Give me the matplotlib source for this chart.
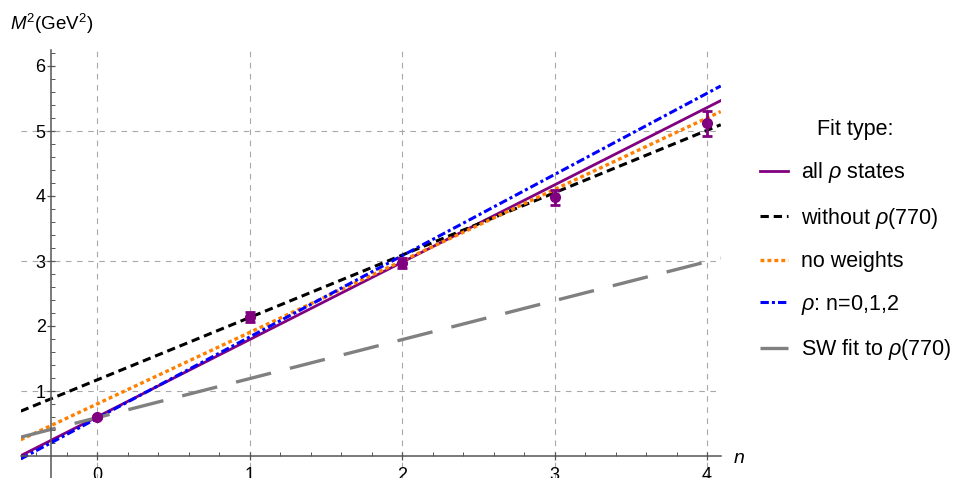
import numpy as np
import matplotlib
matplotlib.use("Agg")
import matplotlib.pyplot as plt
from matplotlib.lines import Line2D
from matplotlib.ticker import FixedLocator

plt.rcParams['font.family'] = ['Liberation Sans', 'DejaVu Sans']
plt.rcParams['mathtext.fontset'] = 'custom'
plt.rcParams['mathtext.rm'] = 'Liberation Sans'
plt.rcParams['mathtext.it'] = 'Liberation Sans:italic'
plt.rcParams['lines.scale_dashes'] = False

# measured states
n_vals = [0, 1, 2, 3, 4]
m2_vals = [0.60, 2.14, 2.97, 3.98, 5.12]
m2_err = [0.02, 0.08, 0.07, 0.12, 0.19]

# linear fits M^2 = a + b n
fit_labels = ["all $\\rho$ states", "without $\\rho$(770)", "no weights",
              "$\\rho$: n=0,1,2", "SW fit to $\\rho$(770)"]
fit_intercepts = [0.60, 1.17, 0.80, 0.58, 0.59]
fit_slopes = [1.19, 0.96, 1.10, 1.25, 0.60]
fit_colors = ["#800080", "black", "#ff8000", "#0000ff", "#808080"]
fit_dashes = [None, (6, 3.5), (2.8, 2.2), (6, 2.2, 2.2, 2.2), (26, 14)]
fit_widths = [2.0, 2.2, 2.4, 2.2, 2.4]

x_ticks = [0, 1, 2, 3, 4]
y_ticks = [1, 2, 3, 4, 5, 6]
grid_x = [0, 1, 2, 3, 4]
grid_y = [1, 3, 5]

W, H = 969, 478
fig = plt.figure(figsize=(W / 100, H / 100), dpi=100)

# pixel layout: x=0 at 97px, 152.5 px/unit ; y=0 at 456px, 65 px/unit
x0, sx = 97.0, 152.5
y0, sy = 456.0, 65.0
xlim = (-0.5, 4.09)
ylim = (-0.75, 6.25)
left = (x0 + sx * xlim[0]) / W
right = (x0 + sx * xlim[1]) / W
top = (y0 - sy * ylim[1])
bot = (y0 - sy * ylim[0])
ax = fig.add_axes([left, (H - bot) / H, right - left, (bot - top) / H])
ax.set_xlim(*xlim)
ax.set_ylim(*ylim)

axis_col = "#555555"
for s in ['top', 'right']:
    ax.spines[s].set_visible(False)
ax.spines['left'].set_position(('data', -0.3))
ax.spines['bottom'].set_position(('data', 0))
for s in ['left', 'bottom']:
    ax.spines[s].set_color(axis_col)
    ax.spines[s].set_linewidth(1.1)

ax.xaxis.set_major_locator(FixedLocator(x_ticks))
ax.xaxis.set_minor_locator(FixedLocator([v for v in np.arange(-0.4, 4.05, 0.2)
                                         if abs(v - round(v)) > 1e-6]))
ax.yaxis.set_major_locator(FixedLocator(y_ticks))
ax.yaxis.set_minor_locator(FixedLocator([v for v in np.arange(0.2, 6.25, 0.2)
                                         if abs(v - round(v)) > 1e-6]))
ax.tick_params(which='major', direction='inout', length=6, width=0.9,
               color=axis_col, labelsize=13)
ax.tick_params(which='minor', direction='in', length=3, width=0.7, color=axis_col)
ax.tick_params(axis='x', which='major', pad=5)
ax.tick_params(axis='y', which='major', pad=1)

for gx in grid_x:
    ax.axvline(gx, color="#a8a8a8", lw=0.8, dashes=(4, 4), zorder=0)
for gy in grid_y:
    ax.axhline(gy, color="#a8a8a8", lw=0.8, dashes=(4, 4), zorder=0)

xs = np.array(xlim)
handles = []
order = [4, 1, 2, 0, 3]
for i in order:
    ln, = ax.plot(xs, fit_intercepts[i] + fit_slopes[i] * xs,
                  color=fit_colors[i], lw=fit_widths[i], zorder=2 + i * 0.1)
    if fit_dashes[i] is not None:
        ln.set_dashes(fit_dashes[i])
for i in range(len(fit_labels)):
    h = Line2D([], [], color=fit_colors[i], lw=fit_widths[i])
    if fit_dashes[i] is not None:
        h.set_dashes(fit_dashes[i] if i != 4 else (20, 0))
    handles.append(h)

ax.errorbar(n_vals, m2_vals, yerr=m2_err, fmt='o', color="#800080",
            ms=7, elinewidth=2, capsize=3.5, capthick=2, zorder=5)

fig.text(10 / W, 1 - 30 / H, "$M^2$(GeV$^2$)", fontsize=13.5, ha='left',
         va='baseline')
fig.text(733 / W, 1 - 463 / H, "$n$", fontsize=14, ha='left', va='baseline')

leg = fig.legend(handles, fit_labels, title="Fit type:", loc='upper left',
                 bbox_to_anchor=(760 / W, 1 - 119 / H), frameon=False,
                 fontsize=15.5, title_fontsize=15.5, handlelength=1.3,
                 handletextpad=0.6, labelspacing=0.95, borderpad=0,
                 borderaxespad=0)

fig.savefig("out.png", dpi=100)
